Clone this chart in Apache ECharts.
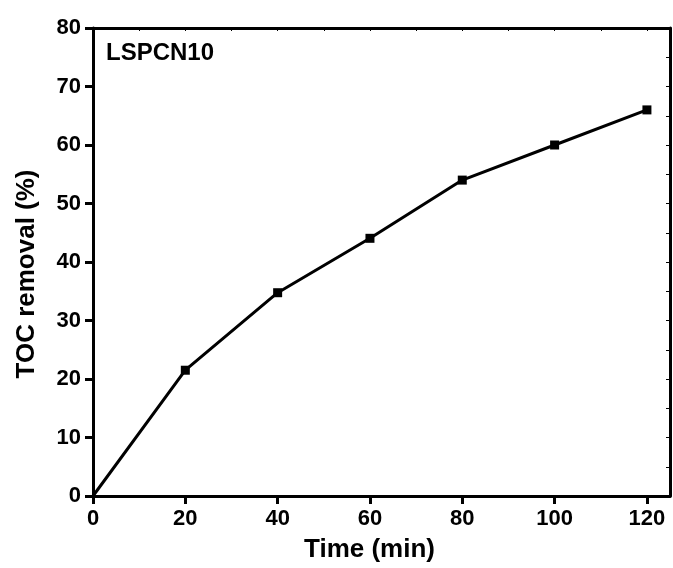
<!DOCTYPE html>
<html>
<head>
<meta charset="utf-8">
<script src="https://cdn.jsdelivr.net/npm/echarts@6/dist/echarts.min.js"></script>
<style>
html,body{margin:0;padding:0;background:#fff;}
#c{width:673px;height:568px;}
</style>
</head>
<body>
<div id="c"></div>
<script>
const timeMin = [0, 20, 40, 60, 80, 100, 120];
const tocRemoval = [0, 21.5, 34.75, 44.05, 54.0, 60.0, 66.0];
const sampleLabel = 'LSPCN10';
const xTitle = 'Time (min)';
const yTitle = 'TOC removal (%)';

const font = 'Liberation Sans, Arial, sans-serif';
const chart = echarts.init(document.getElementById('c'));
const seriesData = timeMin.map((t, i) => {
  const item = { value: [t, tocRemoval[i]] };
  if (t === 0) item.symbolSize = 0;
  return item;
});
chart.setOption({
  animation: false,
  backgroundColor: '#fff',
  grid: { left: 93, right: 3, top: 28, bottom: 72, containLabel: false },
  xAxis: [{
    type: 'value', min: 0, max: 125, interval: 20, position: 'bottom',
    name: xTitle, nameLocation: 'middle', nameGap: 41,
    nameTextStyle: { fontFamily: font, fontWeight: 'bold', fontSize: 26, color: '#000', padding: [0, 24, 0, 0] },
    axisLine: { show: true, onZero: false, lineStyle: { color: '#000', width: 3 } },
    axisTick: { show: true, inside: false, length: 8, lineStyle: { color: '#000', width: 3 } },
    axisLabel: { showMaxLabel: false, fontFamily: font, fontWeight: 'bold', fontSize: 22, color: '#000', margin: 12 },
    splitLine: { show: false }
  }, {
    type: 'value', min: 0, max: 125, interval: 10, position: 'top',
    axisLine: { show: true, onZero: false, lineStyle: { color: '#000', width: 3 } },
    axisTick: { show: true, inside: true, length: 3, lineStyle: { color: '#000', width: 1 } },
    axisLabel: { show: false }, splitLine: { show: false }
  }],
  yAxis: [{
    type: 'value', min: 0, max: 80, interval: 10, position: 'left',
    name: yTitle, nameLocation: 'middle', nameGap: 53, nameRotate: 90,
    nameTextStyle: { fontFamily: font, fontWeight: 'bold', fontSize: 26, color: '#000', padding: [0, 24, 0, 0] },
    axisLine: { show: true, onZero: false, lineStyle: { color: '#000', width: 3 } },
    axisTick: { show: true, inside: false, length: 8, lineStyle: { color: '#000', width: 3 } },
    axisLabel: { fontFamily: font, fontWeight: 'bold', fontSize: 22, color: '#000', margin: 12 },
    splitLine: { show: false }
  }, {
    type: 'value', min: 0, max: 80, interval: 5, position: 'right',
    axisLine: { show: true, onZero: false, lineStyle: { color: '#000', width: 3 } },
    axisTick: { show: true, inside: true, length: 4, lineStyle: { color: '#000', width: 1 } },
    axisLabel: { show: false }, splitLine: { show: false }
  }],
  graphic: [{
    type: 'text', left: 106, top: 41,
    style: { text: sampleLabel, fontFamily: font, fontWeight: 'bold', fontSize: 24, fill: '#000' }
  }],
  series: [{
    type: 'line', xAxisIndex: 0, yAxisIndex: 0,
    data: seriesData,
    symbol: 'rect', symbolSize: 9,
    itemStyle: { color: '#000' },
    lineStyle: { color: '#000', width: 3 },
    clip: false
  }]
});
</script>
</body>
</html>
